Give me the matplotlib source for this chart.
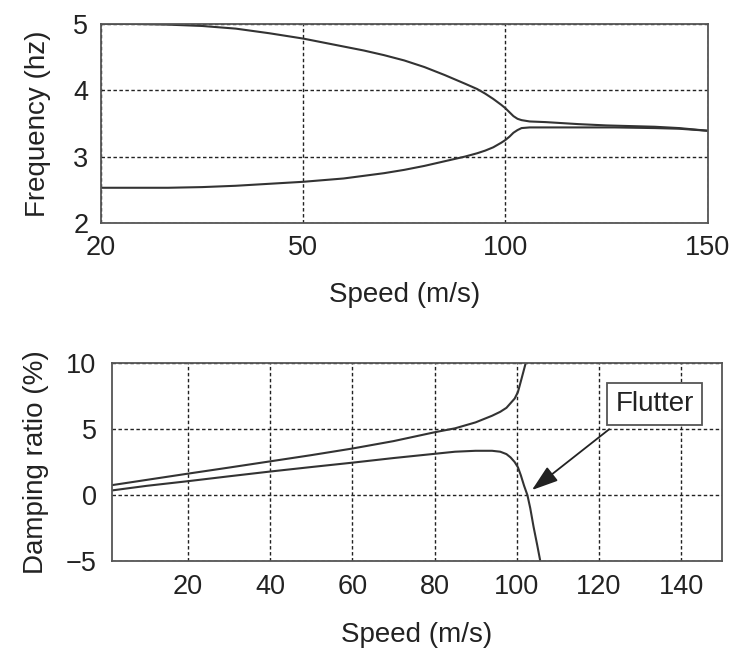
import numpy as np
import matplotlib

matplotlib.use("Agg")
import matplotlib.pyplot as plt

plt.rcParams["font.family"] = ["Liberation Sans", "DejaVu Sans"]

# frequency vs speed (upper panel)
freq_speed_hi = [20, 25, 30, 35, 40, 45, 50, 55, 60, 65, 70, 75, 80, 85, 90, 93, 95, 97,
                 99, 100, 101, 102, 103, 104, 106, 110, 118, 125, 131, 137, 143, 150]
freq_hi = [5.00, 5.00, 4.99, 4.97, 4.93, 4.86, 4.78, 4.72, 4.66, 4.60, 4.53, 4.45, 4.35,
           4.23, 4.10, 4.02, 3.95, 3.87, 3.78, 3.73, 3.67, 3.61, 3.57, 3.55, 3.53, 3.52,
           3.49, 3.47, 3.46, 3.45, 3.43, 3.39]
freq_speed_lo = [20, 25, 30, 35, 40, 45, 50, 55, 60, 65, 70, 75, 80, 85, 90, 93, 95, 97,
                 99, 100, 101, 102, 103, 104, 106, 115, 127, 137, 143, 150]
freq_lo = [2.53, 2.53, 2.53, 2.54, 2.56, 2.59, 2.62, 2.645, 2.67, 2.71, 2.75, 2.80, 2.86,
           2.93, 3.00, 3.05, 3.09, 3.14, 3.21, 3.25, 3.30, 3.36, 3.40, 3.43, 3.44, 3.44,
           3.44, 3.43, 3.42, 3.39]
freq_ticks = [20, 50, 100, 150]

# damping ratio vs speed (lower panel)
damp_speed_hi = [1.5, 10, 20, 30, 40, 50, 60, 70, 80, 85, 90, 94, 96, 97.5, 98.5, 99.5,
                 100.3, 101, 101.6, 102.2, 102.5]
damp_hi = [0.75, 1.15, 1.62, 2.08, 2.55, 3.02, 3.52, 4.08, 4.75, 5.05, 5.50, 6.00, 6.30,
           6.60, 6.95, 7.30, 7.80, 8.60, 9.30, 10.0, 10.5]
damp_speed_lo = [1.5, 10, 20, 30, 40, 50, 60, 70, 80, 85, 90, 94, 96, 97.5, 98.5, 99.5,
                 100.3, 101, 101.8, 102.6, 103.3, 104.1, 105, 105.8, 106.2]
damp_lo = [0.35, 0.70, 1.05, 1.42, 1.78, 2.12, 2.45, 2.80, 3.12, 3.28, 3.35, 3.35, 3.28,
           3.10, 2.85, 2.50, 2.10, 1.50, 0.70, 0.00, -1.00, -2.40, -3.80, -5.10, -5.60]
damp_ticks = [20, 40, 60, 80, 100, 120, 140]

flutter_tip = (103.7, 0.38)
flutter_tail = (122.5, 4.98)
flutter_label = (133.6, 6.9)

LINE = "#333333"
FRAME = "#555555"
TEXT = "#222222"
GRID = dict(color="#222222", linestyle=(0, (2.5, 1.8)), linewidth=1.0)
FS = 19.5


def style_axes(ax):
    for spine in ax.spines.values():
        spine.set_color(FRAME)
        spine.set_linewidth(1.3)
    ax.grid(True, **GRID)
    ax.set_axisbelow(True)
    ax.tick_params(direction="in", length=0, labelsize=FS, colors=TEXT, pad=9)


# speed axis on the frequency panel is stretched piecewise between the tick values
anchor_speed = np.array(freq_ticks, dtype=float)
anchor_pos = np.arange(len(freq_ticks), dtype=float)


def speed_fwd(x):
    return np.interp(x, anchor_speed, anchor_pos)


def speed_inv(p):
    return np.interp(p, anchor_pos, anchor_speed)


fig = plt.figure(figsize=(7.31, 6.48), dpi=100)

ax1 = fig.add_axes([0.138, 0.656, 0.830, 0.307])
ax1.set_xscale("function", functions=(speed_fwd, speed_inv))
ax1.plot(freq_speed_hi, freq_hi, color=LINE, linewidth=1.5)
ax1.plot(freq_speed_lo, freq_lo, color=LINE, linewidth=1.5)
ax1.set_xlim(20, 150)
ax1.set_ylim(2, 5)
ax1.set_xticks(freq_ticks)
ax1.set_xticklabels([str(t) for t in freq_ticks])
ax1.set_yticks([2, 3, 4, 5])
ax1.xaxis.set_minor_locator(matplotlib.ticker.NullLocator())
style_axes(ax1)
ax1.set_xlabel("Speed (m/s)", fontsize=20, color=TEXT, labelpad=15)
ax1.set_ylabel("Frequency (hz)", fontsize=20, color=TEXT, labelpad=16)

ax2 = fig.add_axes([0.153, 0.134, 0.835, 0.306])
ax2.plot(damp_speed_hi, damp_hi, color=LINE, linewidth=1.5)
ax2.plot(damp_speed_lo, damp_lo, color=LINE, linewidth=1.5)
ax2.set_xlim(1.5, 150)
ax2.set_ylim(-5, 10)
ax2.set_xticks(damp_ticks)
ax2.set_yticks([-5, 0, 5, 10])
ax2.set_yticklabels(["\u22125", "0", "5", "10"])
style_axes(ax2)
ax2.tick_params(axis="y", pad=11)
ax2.set_xlabel("Speed (m/s)", fontsize=20, color=TEXT, labelpad=16)
ax2.set_ylabel("Damping ratio (%)", fontsize=20, color=TEXT, labelpad=12)

ax2.annotate("", xy=flutter_tip, xytext=flutter_tail,
             arrowprops=dict(arrowstyle="-|>,head_length=0.9,head_width=0.3",
                             color=TEXT, linewidth=1.3, shrinkA=0, shrinkB=0,
                             mutation_scale=18))
ax2.text(*flutter_label, "Flutter", fontsize=20, color=TEXT,
         ha="center", va="center",
         bbox=dict(boxstyle="square,pad=0.3", facecolor="white",
                   edgecolor=FRAME, linewidth=1.3))

fig.savefig("out.png", dpi=100)
